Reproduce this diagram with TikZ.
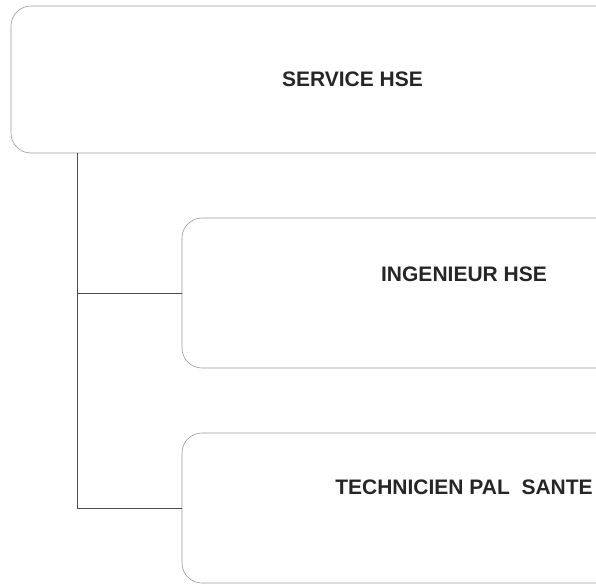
\documentclass[tikz,border=0pt]{standalone}
\usepackage{fontspec}
\setmainfont{Liberation Sans}
\usetikzlibrary{positioning}
\tikzset{
    orgbox/.style={rectangle, draw=black!40, line width=0.6pt, rounded corners=20pt, minimum width=564pt, minimum height=150pt, inner sep=0pt},
    orgtext/.style={font=\fontsize{21}{25}\selectfont\bfseries, text=black!85, inner sep=0pt},
    link/.style={draw=black!70, line width=0.8pt},
}
\begin{document}
\begin{tikzpicture}[x=1pt, y=-1pt]
    \path[use as bounding box, clip] (0,0) rectangle (596,587);
    % boxes
    \node[orgbox, minimum width=689pt, minimum height=147pt] (hse) at (355.5,79.5) {};
    \node[orgbox] (ing) at (464,293) {};
    \node[orgbox] (tech) at (464,508) {};
    % labels
    \node[orgtext] (hsetxt) at ([xshift=-3pt]hse.center) {SERVICE HSE};
    \node[orgtext] (ingtxt) at ([yshift=19pt]ing.center) {INGENIEUR HSE};
    \node[orgtext] (techtxt) at ([yshift=21pt]tech.center) {TECHNICIEN PAL\ \ SANTE};
    % links
    \coordinate (trunk) at ([xshift=67pt]hse.south west);
    \draw[link] (trunk) |- (ing.west);
    \draw[link] (trunk) |- (tech.west);
\end{tikzpicture}
\end{document}
